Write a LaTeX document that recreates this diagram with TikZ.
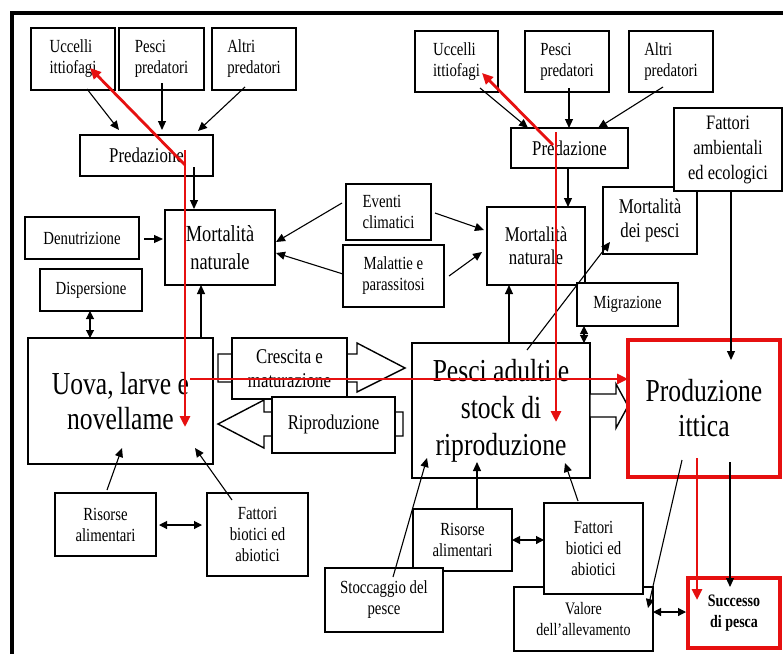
\documentclass[tikz,border=0pt]{standalone}
\usepackage{fontspec}
\setmainfont{Liberation Serif}[FakeStretch=0.8]
\usetikzlibrary{arrows.meta,calc}
\definecolor{redline}{RGB}{230,16,16}
\begin{document}
\begin{tikzpicture}[x=1pt,y=-1pt,
 box/.style={draw,line width=1.4pt,fill=white,inner sep=0pt,outer sep=0pt,align=center},
 lbox/.style={box,align=left},
 redbox/.style={box,draw=redline,line width=4.5pt},
 wh/.style 2 args={minimum width=#1pt,minimum height=#2pt},
 sm/.style={font=\fontsize{18.5}{21}\selectfont},
 md/.style={font=\fontsize{21}{24}\selectfont},
 blockarrow/.style={draw,line width=1.4pt,fill=white},
 arr/.style={line width=1.1pt,-{Triangle[length=9pt,width=8pt]}},
 darr/.style={line width=1.1pt,{Triangle[length=8pt,width=8pt]}-{Triangle[length=8pt,width=8pt]}},
 rarr/.style={draw=redline,line width=2.8pt,-{Triangle[length=11pt,width=10pt]},redline}
]
\useasboundingbox (0,0) rectangle (783,653);
\fill[white] (0,0) rectangle (783,653);
% frame
\draw[line width=3.5pt] (12,656) -- (12,13) -- (786,13);

% ---- left top
\node[lbox,sm,wh={84}{62}] (uccL) at (73,59) {Uccelli\\ittiofagi};
\node[lbox,sm,wh={85}{62}] (pesL) at (161.5,59) {Pesci\\predatori};
\node[lbox,sm,wh={84}{62}] (altL) at (254,59) {Altri\\predatori};
\node[box,md,wh={133}{41}] (predL) at (146.5,155.5) {Predazione};
\node[box,sm,wh={114}{42}] (denut) at (82,238) {Denutrizione};
\node[box,font=\fontsize{23}{28}\selectfont,wh={110}{75}] (mortL) at (220,247.5) {Mortalità\\naturale};
\node[box,sm,wh={102}{42}] (disp) at (91,290) {Dispersione};
\node[box,font=\fontsize{32}{35}\selectfont,wh={185}{126}] (uova) at (120.5,401) {Uova, larve e\\novellame};

% block arrows
\draw[blockarrow] (218,354) -- (357,354) -- (357,343) -- (405,368) -- (357,392) -- (357,382) -- (218,382) -- cycle;
\node[box,md,wh={115}{61}] (cresc) at (289.5,368.5) {Crescita e\\maturazione};
\draw[blockarrow] (403,412) -- (264,412) -- (264,400) -- (218,424) -- (264,448) -- (264,436) -- (403,436) -- cycle;
\node[box,md,wh={123}{56}] (ripr) at (333.5,425) {\raisebox{5pt}{Riproduzione}};

% middle
\node[lbox,sm,wh={85}{56}] (eventi) at (388.5,212) {Eventi\\climatici};
\node[box,sm,wh={101}{62}] (malat) at (393.5,276) {Malattie e\\parassitosi};

% ---- right top
\node[lbox,sm,wh={83}{61}] (uccR) at (456.5,61.5) {Uccelli\\ittiofagi};
\node[lbox,sm,wh={84}{61}] (pesR) at (567,61.5) {Pesci\\predatori};
\node[lbox,sm,wh={84}{61}] (altR) at (671,61.5) {Altri\\predatori};
\node[box,md,wh={117}{40}] (predR) at (569.5,148) {Predazione};
\node[box,font=\fontsize{21}{24}\selectfont,wh={94}{67}] (mortP) at (650,220.5) {Mortalità\\dei pesci};
\node[box,font=\fontsize{20.5}{25}\selectfont,wh={108}{83}] (fattA) at (728,149.5) {Fattori\\ambientali\\ed ecologici};
\node[box,font=\fontsize{21}{23}\selectfont,wh={98}{78}] (mortR) at (536,246) {Mortalità\\naturale};
\node[box,sm,wh={101}{43}] (migr) at (627.5,304.5) {Migrazione};
\node[box,font=\fontsize{32}{37}\selectfont,wh={178}{135}] (pad) at (501,410.5) {Pesci adulti e\\stock di\\riproduzione};
\draw[blockarrow] (590,394) -- (616,394) -- (616,384) -- (628,406) -- (616,428) -- (616,417) -- (590,417) -- cycle;
\node[redbox,font=\fontsize{32}{35}\selectfont,wh={152}{137}] (prod) at (704,408.5) {Produzione\\ittica};

% ---- bottom left
\node[box,sm,wh={101}{63}] (risL) at (105.5,524.5) {Risorse\\alimentari};
\node[box,sm,wh={101}{83}] (fatL) at (257.5,534.5) {Fattori\\biotici ed\\abiotici};

% ---- bottom right
\node[box,sm,wh={99}{62}] (risR) at (462.5,540) {Risorse\\alimentari};
\node[box,sm,wh={118}{64}] (stocc) at (384,600) {Stoccaggio del\\pesce};
\node[box,font=\fontsize{17.5}{21}\selectfont,wh={139}{64}] (valore) at (583.5,619) {Valore\\dell’allevamento};
\node[box,sm,wh={99}{91}] (fatR) at (593.5,548.5) {Fattori\\biotici ed\\abiotici};
\node[redbox,font=\fontsize{17.5}{21}\selectfont\bfseries,wh={92}{70}] (succ) at (734,613) {Successo\\di pesca};

% ---- black connectors
\draw[arr] ($(uccL.south)+(14,-1)$) -- ($(predL.north)+(-27.5,-5)$);
\draw[arr] ($(pesL.south)+(0.5,-7)$) -- ($(predL.north)+(15.5,-5)$);
\draw[arr] ($(altL.south)+(-9,-3)$) -- ($(predL.north)+(51.5,-4)$);
\draw[arr] ($(predL.south)+(47.5,-9)$) -- ($(mortL.north)+(-26,-1)$);
\draw[arr] ($(denut.east)+(5,1)$) -- ($(mortL.west)+(-2,-8.5)$);
\draw[darr] ($(disp.south)+(-1,0)$) -- ($(uova.north)+(-30.5,0)$);
\draw[arr] ($(uova.north)+(80.5,0)$) -- ($(mortL.south)+(-19,0)$);
\draw[arr] ($(eventi.west)+(-4,-9)$) -- ($(mortL.east)+(1,-5.5)$);
\draw[arr] ($(malat.west)+(0,-2)$) -- ($(mortL.east)+(1,5.5)$);
\draw[arr] ($(eventi.east)+(4,1)$) -- ($(mortR.west)+(-3,-16)$);
\draw[arr] ($(malat.east)+(5,0)$) -- ($(mortR.west)+(-5,6)$);
\draw[arr] ($(uccR.south)+(23.5,-4)$) -- ($(predR.north)+(-41.5,0)$);
\draw[arr] ($(pesR.south)+(2,-4)$) -- ($(predR.north)+(-0.5,0)$);
\draw[arr] ($(altR.south)+(-8,-5)$) -- ($(predR.north)+(28.5,0)$);
\draw[arr] ($(predR.south)+(-1.5,0)$) -- ($(mortR.north)+(32,0)$);
\draw[arr] ($(pad.north)+(8,0)$) -- ($(mortR.south)+(-27,0)$);
\draw[arr] ($(pad.north)+(26,7)$) -- ($(mortP.south)+(-40,-12)$);
\draw[darr] ($(migr.south)+(-43.5,0)$) -- ($(pad.north)+(83,0)$);
\draw[arr] ($(fattA.south)+(3,0)$) -- ($(prod.north)+(27,20)$);
\draw[arr] ($(prod.south)+(26,-15)$) -- ($(succ.north)+(-4,9)$);
\draw[arr] ($(prod.south)+(-22,-17)$) -- ($(valore.east)+(-5,-11)$);
\draw[darr] ($(valore.east)+(0,-7)$) -- ($(succ.west)+(-2,-1)$);
\draw[arr] ($(stocc.north)+(9,9)$) -- ($(pad.south)+(-74,-20)$);
\draw[arr] ($(risR.north)+(14.5,0)$) -- ($(pad.south)+(-24,-16)$);
\draw[arr] ($(fatR.north)+(-15.5,-2)$) -- ($(pad.south)+(64,-15)$);
\draw[darr] (risR.east) -- ($(fatR.west)+(0,-8.5)$);
\draw[arr] ($(risL.north)+(1.5,-3)$) -- ($(uova.south)+(1.5,-16)$);
\draw[arr] ($(fatL.north)+(-25.5,7)$) -- ($(uova.south)+(74.5,-16)$);
\draw[darr] ($(risL.east)+(3,0.5)$) -- ($(fatL.west)+(-5,-9.5)$);

% ---- red connectors
\draw[rarr] ($(predL.center)+(38.5,-5.5)$) -- ($(uova.center)+(64.5,26)$);
\draw[rarr] ($(predL.center)+(38.5,9.5)$) -- ($(uccL.center)+(17,9)$);
\draw[rarr] ($(uova.center)+(69.5,-22)$) -- ($(prod.west)+(0,-29.5)$);
\draw[rarr] ($(predR.center)+(-13.5,-16)$) -- ($(pad.center)+(55,11.5)$);
\draw[rarr] ($(predR.center)+(-16.5,-3)$) -- ($(uccR.center)+(25.5,11.5)$);
\draw[rarr] ($(prod.south)+(-7,-19)$) -- ($(succ.center)+(-37,-13)$);
\end{tikzpicture}
\end{document}
